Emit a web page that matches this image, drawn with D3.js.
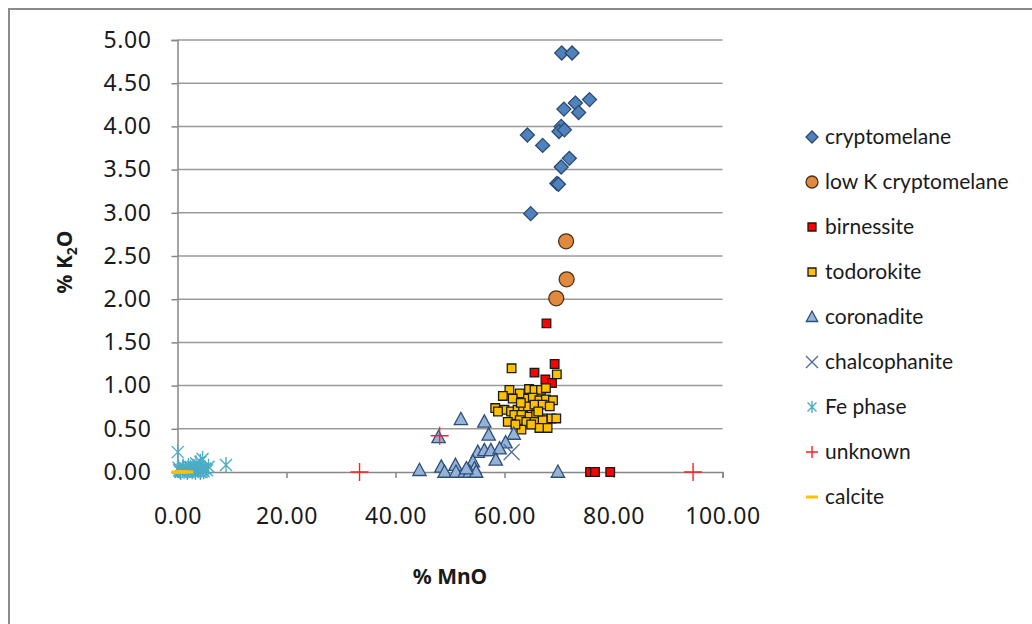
<!DOCTYPE html>
<html>
<head>
<meta charset="utf-8">
<script src="https://cdn.jsdelivr.net/npm/d3@7"></script>
<style>
  html, body { margin: 0; padding: 0; background: #fff; }
  svg { display: block; }
</style>
</head>
<body>
<svg id="chart" width="1032" height="624"></svg>
<script>
// ---- data: [% MnO, % K2O] per analysis ----
const cryptomelane = [
  [70.5, 4.85], [72.4, 4.85], [75.6, 4.31], [73.0, 4.27], [70.9, 4.20], [73.6, 4.16],
  [70.4, 4.00], [70.0, 3.94], [71.0, 3.96], [64.2, 3.90], [67.0, 3.78], [71.9, 3.63],
  [70.4, 3.53], [69.6, 3.34], [69.9, 3.33], [64.8, 2.99]
];
const lowKCryptomelane = [[71.3, 2.67], [71.4, 2.23], [69.5, 2.01]];
const birnessite = [
  [67.7, 1.72], [69.2, 1.25], [65.5, 1.15], [67.5, 1.07], [68.7, 1.03],
  [75.7, 0.00], [76.6, 0.00], [79.4, 0.00]
];
const todorokite = [
  [61.3, 1.20], [69.6, 1.13],
  [60.9, 0.95], [62.8, 0.91], [64.5, 0.96], [65.5, 0.95], [66.7, 0.95], [67.6, 0.97],
  [59.7, 0.88], [61.5, 0.85], [64.3, 0.85], [65.2, 0.86], [66.4, 0.83], [67.6, 0.84], [68.9, 0.83],
  [58.3, 0.74], [60.0, 0.72], [61.2, 0.70], [62.4, 0.72], [63.4, 0.74], [64.3, 0.76],
  [65.5, 0.78], [67.0, 0.78], [68.3, 0.76], [58.8, 0.70], [63.0, 0.80],
  [61.8, 0.66], [63.1, 0.66], [64.6, 0.64], [65.8, 0.66], [67.0, 0.62], [68.6, 0.62], [69.5, 0.62],
  [60.6, 0.58], [62.8, 0.60], [64.0, 0.58], [65.5, 0.58], [67.0, 0.60], [66.2, 0.70],
  [63.1, 0.49], [66.4, 0.51], [67.9, 0.51], [64.9, 0.55], [62.0, 0.55]
];
const coronadite = [
  [52.0, 0.61], [56.3, 0.58], [47.9, 0.40], [57.1, 0.43], [61.7, 0.44], [60.2, 0.34],
  [55.1, 0.23], [56.3, 0.25], [57.5, 0.25], [59.1, 0.27], [58.4, 0.14], [54.2, 0.12],
  [54.5, 0.04], [44.4, 0.02], [48.4, 0.06], [49.0, 0.00], [51.0, 0.08], [51.1, 0.00],
  [52.7, 0.00], [53.6, 0.00], [54.8, 0.00], [53.0, 0.04], [69.8, 0.00]
];
const chalcophanite = [[61.3, 0.23]];
const fePhase = [
  [0.05, 0.23], [4.6, 0.15], [3.4, 0.10], [5.7, 0.06], [8.9, 0.08], [4.2, 0.12],
  [0.3, 0.02], [0.6, 0.00], [0.9, 0.03], [1.2, 0.01], [1.5, 0.04], [1.8, 0.00],
  [2.1, 0.02], [2.4, 0.05], [2.7, 0.01], [3.0, 0.03], [3.3, 0.00], [3.6, 0.04],
  [3.9, 0.02], [4.2, 0.00], [4.5, 0.03], [4.8, 0.01], [5.1, 0.04], [0.2, 0.05],
  [1.0, 0.06], [2.0, 0.07], [3.0, 0.06], [5.4, 0.02], [0.5, 0.01], [2.6, 0.03]
];
const unknown = [[48.1, 0.42], [33.4, 0.00], [94.6, 0.00]];
const calcite = [[0.0, 0.00], [0.6, 0.00], [1.2, 0.00], [1.8, 0.00]];

const xTicks = [0, 20, 40, 60, 80, 100];
const yTicks = [0, 0.5, 1, 1.5, 2, 2.5, 3, 3.5, 4, 4.5, 5];

const seriesNames = [
  "cryptomelane", "low K cryptomelane", "birnessite", "todorokite", "coronadite",
  "chalcophanite", "Fe phase", "unknown", "calcite"
];

// ---- marker styles ----
const styles = {
  "cryptomelane":       { shape: "diamond", fill: "#4F81BD", stroke: "#2C4A70", r: 7 },
  "low K cryptomelane": { shape: "circle",  fill: "#E0893F", stroke: "#4A3018", r: 7.5 },
  "birnessite":         { shape: "square",  fill: "#FF0000", stroke: "#1a1a1a", r: 4.3 },
  "todorokite":         { shape: "square",  fill: "#FFC000", stroke: "#1a1a1a", r: 4.3 },
  "coronadite":         { shape: "triangle",fill: "#95B3D7", stroke: "#2E4F7A", r: 7 },
  "chalcophanite":      { shape: "x",       fill: "none",    stroke: "#4F6A9C", r: 8 },
  "Fe phase":           { shape: "star",    fill: "none",    stroke: "#4BACC6", r: 8 },
  "unknown":            { shape: "plus",    fill: "none",    stroke: "#FF2020", r: 9 },
  "calcite":            { shape: "dash",    fill: "none",    stroke: "#FFC000", r: 6 }
};
const seriesData = {
  "cryptomelane": cryptomelane, "low K cryptomelane": lowKCryptomelane,
  "birnessite": birnessite, "todorokite": todorokite, "coronadite": coronadite,
  "chalcophanite": chalcophanite, "Fe phase": fePhase, "unknown": unknown, "calcite": calcite
};

function markerPath(shape, r) {
  const p = d3.path();
  switch (shape) {
    case "diamond":
      p.moveTo(0, -r); p.lineTo(r, 0); p.lineTo(0, r); p.lineTo(-r, 0); p.closePath(); break;
    case "circle":
      p.arc(0, 0, r, 0, 2 * Math.PI); break;
    case "square":
      p.rect(-r, -r, 2 * r, 2 * r); break;
    case "triangle":
      p.moveTo(0, -r); p.lineTo(r * 0.95, r * 0.75); p.lineTo(-r * 0.95, r * 0.75); p.closePath(); break;
    case "x":
      p.moveTo(-r, -r); p.lineTo(r, r); p.moveTo(r, -r); p.lineTo(-r, r); break;
    case "star": {
      const a = r * 0.75;
      p.moveTo(-a, -a); p.lineTo(a, a); p.moveTo(a, -a); p.lineTo(-a, a);
      p.moveTo(0, -r); p.lineTo(0, r); break;
    }
    case "plus":
      p.moveTo(-r, 0); p.lineTo(r, 0); p.moveTo(0, -r); p.lineTo(0, r); break;
    case "dash":
      p.moveTo(-r, 0); p.lineTo(r, 0); break;
  }
  return p.toString();
}
function strokeWidth(shape) {
  if (shape === "dash") return 3;
  if (shape === "x" || shape === "star" || shape === "plus") return 1.4;
  return 1.3;
}

// ---- layout ----
const svg = d3.select("#chart");
const x = d3.scaleLinear().domain([0, 100]).range([177.5, 722.5]);
const y = d3.scaleLinear().domain([0, 5]).range([472, 40]);

// outer chart frame
svg.append("path")
  .attr("d", "M9,640 L9,9 L1040,9")
  .attr("fill", "none").attr("stroke", "#8a8a8a").attr("stroke-width", 2);

// horizontal gridlines
svg.append("g").selectAll("line").data(yTicks.slice(1)).join("line")
  .attr("x1", x(0)).attr("x2", x(100))
  .attr("y1", d => y(d)).attr("y2", d => y(d))
  .attr("stroke", "#9a9a9a").attr("stroke-width", 1.5);

const tickFont = "'Noto Sans', 'Open Sans', sans-serif";

// y axis
const yAxis = svg.append("g")
  .attr("transform", `translate(${x(0)},0)`)
  .call(d3.axisLeft(y).tickValues(yTicks).tickFormat(d3.format(".2f")).tickSize(6).tickPadding(20));
// x axis
const xAxis = svg.append("g")
  .attr("transform", `translate(0,${y(0)})`)
  .call(d3.axisBottom(x).tickValues(xTicks).tickFormat(d3.format(".2f")).tickSize(6).tickPadding(30));

[yAxis, xAxis].forEach(g => {
  g.select(".domain").attr("stroke", "#868686").attr("stroke-width", 1.5);
  g.selectAll(".tick line").attr("stroke", "#868686").attr("stroke-width", 1.5);
  g.selectAll(".tick text")
    .attr("fill", "#1a1a1a")
    .style("font-family", tickFont)
    .style("font-size", "23px")
    .style("letter-spacing", "0.6px");
});

// data markers, in legend order so later series sit on top
const plot = svg.append("g");
seriesNames.forEach(name => {
  const st = styles[name];
  plot.append("g").selectAll("path").data(seriesData[name]).join("path")
    .attr("transform", d => `translate(${x(d[0])},${y(d[1])})`)
    .attr("d", markerPath(st.shape, st.r))
    .attr("fill", st.fill)
    .attr("stroke", st.stroke)
    .attr("stroke-width", strokeWidth(st.shape));
});

// axis titles
svg.append("text")
  .attr("x", 450).attr("y", 584)
  .attr("text-anchor", "middle")
  .style("font-family", tickFont).style("font-size", "21px").style("font-weight", "bold")
  .attr("fill", "#1a1a1a")
  .text("% MnO");

const yTitle = svg.append("text")
  .attr("transform", "translate(72,262) rotate(-90)")
  .attr("text-anchor", "middle")
  .style("font-family", tickFont).style("font-size", "21px").style("font-weight", "bold")
  .attr("fill", "#1a1a1a");
yTitle.append("tspan").text("% K");
yTitle.append("tspan").attr("dy", 5).style("font-size", "14px").text("2");
yTitle.append("tspan").attr("dy", -5).text("O");

// legend
const legend = svg.append("g");
const legendRows = legend.selectAll("g").data(seriesNames).join("g")
  .attr("transform", (d, i) => `translate(812,${137 + i * 45})`);
legendRows.append("path")
  .attr("d", d => {
    const st = styles[d];
    const r = st.shape === "square" ? 4 : 6;
    return markerPath(st.shape, r);
  })
  .attr("fill", d => styles[d].fill)
  .attr("stroke", d => styles[d].stroke)
  .attr("stroke-width", d => strokeWidth(styles[d].shape));
legendRows.append("text")
  .attr("x", 13).attr("dy", "0.35em")
  .style("font-family", "Lato, 'Open Sans', sans-serif")
  .style("font-size", "21px")
  .attr("fill", "#1a1a1a")
  .text(d => d);
</script>
</body>
</html>
